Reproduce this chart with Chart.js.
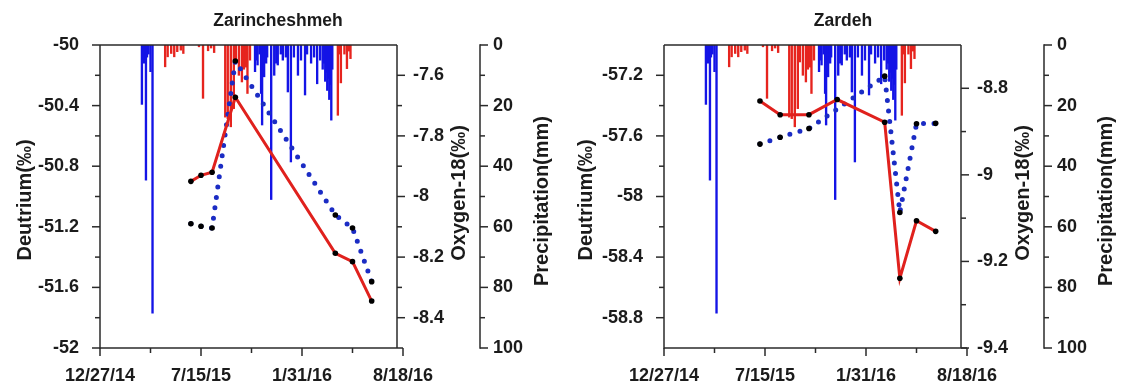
<!DOCTYPE html>
<html>
<head>
<meta charset="utf-8">
<script src="https://cdn.jsdelivr.net/npm/chart.js@4.4.1/dist/chart.umd.min.js"></script>
<style>
  html, body { margin: 0; padding: 0; background: #fff; }
  #wrap { position: relative; width: 1122px; height: 385px; overflow: hidden; }
  .panel { position: absolute; top: 0; width: 560px; height: 385px; }
</style>
</head>
<body>
<div id="wrap">
  <div class="panel" style="left:0"><canvas id="zarincheshmeh"></canvas></div>
  <div class="panel" style="left:564px"><canvas id="zardeh"></canvas></div>
</div>
<script>
// Date axis labels (M/D/YY); the first and last also bound the time axis
const dateTickLabels = ['12/27/14', '7/15/15', '1/31/16', '8/18/16'];

// Daily precipitation (mm), cold season
const coldPrecipDates = [
  '2015-03-20', '2015-03-22', '2015-03-24', '2015-03-28', '2015-03-30', '2015-04-02', '2015-04-06', '2015-04-10',
  '2015-10-30', '2015-11-01', '2015-11-04', '2015-11-08', '2015-11-11', '2015-11-13', '2015-11-17', '2015-11-21',
  '2015-11-23', '2015-12-01', '2015-12-07', '2015-12-11', '2015-12-14', '2015-12-20', '2015-12-24', '2015-12-30',
  '2016-01-03', '2016-01-09', '2016-01-15', '2016-01-23', '2016-01-29', '2016-02-06', '2016-02-10', '2016-02-18',
  '2016-02-24', '2016-03-01', '2016-03-07', '2016-03-12', '2016-03-15', '2016-03-17', '2016-03-19', '2016-03-21',
  '2016-03-23', '2016-03-25', '2016-03-27', '2016-03-29', '2016-03-31'
];
const coldPrecipMm = [
  19.6, 4.5, 6, 44.6, 4, 3, 8.8, 88.5,
  8.8, 5, 6.6, 3, 16, 26.4, 10.5, 6,
  4, 51, 10, 6, 6.6, 3, 5, 4,
  15.5, 38.6, 4, 10, 5, 16.5, 3, 6,
  4, 12.8, 5, 8, 6, 12, 9, 15,
  11, 18, 13, 24.8, 8
];

// Daily precipitation (mm), warm season
const warmPrecipDates = [
  '2015-05-05', '2015-05-10', '2015-05-17', '2015-05-23', '2015-05-29', '2015-06-05', '2015-06-10', '2015-07-11',
  '2015-07-19', '2015-07-29', '2015-08-04', '2015-08-10', '2015-09-01', '2015-09-06', '2015-09-12', '2015-09-18',
  '2015-09-22', '2015-09-28', '2015-10-04', '2015-10-08', '2015-10-12', '2015-10-15', '2015-10-20', '2016-04-11',
  '2016-04-14', '2016-04-17', '2016-04-24', '2016-04-29', '2016-05-03', '2016-05-06'
];
const warmPrecipMm = [
  7.2, 3.9, 2.8, 3.9, 2.2, 1.7, 2.8, 0.6,
  17.6, 1.9, 1, 2.5, 23.8, 24.3, 27, 21,
  5.6, 10, 12.2, 8, 7.3, 16, 5, 23.2,
  3, 12.5, 3, 7.8, 2, 4.5
];

// Zarincheshmeh isotope samples
const zarSampleDates = ['2015-06-25', '2015-07-15', '2015-08-06', '2015-09-21', '2016-04-06', '2016-05-10', '2016-06-17'];
const zarDeuterium = [-50.90, -50.86, -50.84, -50.345, -51.375, -51.43, -51.69];
const zarOxygen18 = [-8.09, -8.098, -8.104, -7.553, -8.061, -8.104, -8.281];

// Zardeh isotope samples
const zrdDeutDates = ['2015-07-05', '2015-08-14', '2015-10-10', '2015-12-05', '2016-03-08', '2016-04-07', '2016-05-10', '2016-06-17'];
const zrdDeuterium = [-57.37, -57.46, -57.46, -57.36, -57.51, -58.54, -58.16, -58.23];
const zrdOxyDates = ['2015-07-05', '2015-08-14', '2015-10-10', '2016-03-08', '2016-04-07', '2016-05-10', '2016-06-17'];
const zrdOxygen18 = [-8.929, -8.913, -8.893, -8.772, -9.087, -8.882, -8.881];

// Axis tick labels
const zarDeutTicks = [-50, -50.4, -50.8, -51.2, -51.6, -52];
const zarOxyTicks = [-7.6, -7.8, -8, -8.2, -8.4];
const zrdDeutTicks = [-57.2, -57.6, -58, -58.4, -58.8];
const zrdOxyTicks = [-8.8, -9, -9.2, -9.4];
const precipTicks = [0, 20, 40, 60, 80, 100];

// ---- helpers ----
const DAY_MS = 86400000;
const parseMDY = s => { const [m, d, y] = s.split('/').map(Number); return Date.UTC(2000 + y, m - 1, d); };
const parseISO = s => { const [y, m, d] = s.split('-').map(Number); return Date.UTC(y, m - 1, d); };
const origin = parseMDY(dateTickLabels[0]);
const dayOf = t => Math.round((t - origin) / DAY_MS);
const tickDays = dateTickLabels.map(s => dayOf(parseMDY(s)));
const pairs = (dates, vals) => dates.map((d, i) => ({ x: dayOf(parseISO(d)), y: vals[i] }));
const fmtNum = v => String(Number(v.toFixed(2)));

const FONT = '"Liberation Sans", Arial, Helvetica, sans-serif';
const TEXT = '#1b1b1b';
const AXIS = '#2a2a2a';

function minorValues(min, max, step, majors) {
  const out = [];
  const n = Math.round((max - min) / step);
  for (let i = 1; i < n; i++) {
    const v = min + i * step;
    if (!majors.some(m => Math.abs(m - v) < step / 4)) out.push(v);
  }
  return out;
}

// Draws the frame, the tick marks and all the titles of one panel
const panelDecor = {
  id: 'panelDecor',
  afterDraw(chart, _args, o) {
    const { ctx, chartArea: a } = chart;
    const { x, yD, yO, yP } = chart.scales;
    const oxX = a.right - o.oxyInset;
    const pX = yP.left;
    const MAJ = 8, MIN = 5;
    ctx.save();
    ctx.strokeStyle = AXIS;
    ctx.lineWidth = 1.5;
    const seg = (x1, y1, x2, y2) => { ctx.beginPath(); ctx.moveTo(x1, y1); ctx.lineTo(x2, y2); ctx.stroke(); };

    // frame and axis lines
    seg(a.left, a.top, a.left, a.bottom + 0.7);
    seg(a.left, a.bottom, a.right, a.bottom);
    seg(a.left, a.top, oxX, a.top);
    seg(oxX, a.top, oxX, a.bottom);
    seg(pX, a.top - 0.7, pX, a.bottom + 0.7);

    // time axis ticks
    x.ticks.forEach(t => { const p = x.getPixelForValue(t.value); seg(p, a.bottom, p, a.bottom + MAJ); });
    minorValues(x.min, x.max, o.xMinor, x.ticks.map(t => t.value))
      .forEach(v => { const p = x.getPixelForValue(v); seg(p, a.bottom, p, a.bottom + MIN); });

    // deuterium ticks (outward to the left)
    yD.ticks.forEach(t => { const p = yD.getPixelForValue(t.value); seg(a.left - MAJ, p, a.left, p); });
    minorValues(yD.min, yD.max, o.deutMinor, yD.ticks.map(t => t.value))
      .forEach(v => { const p = yD.getPixelForValue(v); seg(a.left - MIN, p, a.left, p); });

    // oxygen-18 ticks (outward to the right)
    yO.ticks.forEach(t => { const p = yO.getPixelForValue(t.value); seg(oxX, p, oxX + MAJ, p); });
    minorValues(yO.min, yO.max, o.oxyMinor, yO.ticks.map(t => t.value))
      .forEach(v => { const p = yO.getPixelForValue(v); seg(oxX, p, oxX + MIN, p); });

    // precipitation ticks
    yP.ticks.forEach(t => { const p = yP.getPixelForValue(t.value); seg(pX, p, pX + MAJ, p); });
    minorValues(yP.min, yP.max, 10, yP.ticks.map(t => t.value))
      .forEach(v => { const p = yP.getPixelForValue(v); seg(pX, p, pX + MIN, p); });

    // titles
    ctx.fillStyle = TEXT;
    ctx.textAlign = 'center';
    ctx.textBaseline = 'middle';
    ctx.font = 'bold 17.5px ' + FONT;
    ctx.fillText(o.title, a.left + o.titleDx, 21);

    ctx.font = 'bold 20px ' + FONT;
    const vertical = (text, cx, cy) => {
      ctx.save(); ctx.translate(cx, cy); ctx.rotate(-Math.PI / 2); ctx.fillText(text, 0, 0); ctx.restore();
    };
    const midY = (a.top + a.bottom) / 2;
    vertical('Deutrium(‰)', yD.left + o.deutTitleDx, midY + 3.5);
    vertical('Oxygen-18(‰)', oxX + 62, midY - 3.5);
    vertical('Precipitation(mm)', pX + 62, midY + 4.5);
    ctx.restore();
  }
};

function buildPanel(canvasId, cfg) {
  const tickFont = { family: FONT, size: 18, weight: 'bold' };
  const fixedTicks = list => axis => { axis.ticks = list.map(v => ({ value: v })); };
  const dayLabel = v => { const i = tickDays.indexOf(v); return i >= 0 ? dateTickLabels[i] : ''; };
  const common = { grid: { display: false, drawTicks: false }, border: { display: false } };

  return new Chart(document.getElementById(canvasId), {
    type: 'line',
    data: {
      datasets: [
        {
          type: 'line', label: 'Deuterium', data: pairs(cfg.deutDates, cfg.deut), yAxisID: 'yD',
          borderColor: '#e0211d', borderWidth: 3, tension: 0,
          pointRadius: 2.8, pointBackgroundColor: '#000', pointBorderWidth: 0, order: 1
        },
        {
          type: 'line', label: 'Oxygen-18', data: pairs(cfg.oxyDates, cfg.oxy), yAxisID: 'yO',
          borderColor: '#1b2cc4', borderWidth: 5, borderDash: [0, 10.5], borderCapStyle: 'round', tension: 0,
          pointRadius: 2.8, pointBackgroundColor: '#000', pointBorderWidth: 0, order: 2
        },
        {
          type: 'bar', label: 'Precipitation (cold season)', data: pairs(coldPrecipDates, coldPrecipMm), yAxisID: 'yP',
          backgroundColor: '#1414e6', barThickness: 1.7, grouped: false, order: 3
        },
        {
          type: 'bar', label: 'Precipitation (warm season)', data: pairs(warmPrecipDates, warmPrecipMm), yAxisID: 'yP',
          backgroundColor: '#e6241e', barThickness: 1.7, grouped: false, order: 3
        }
      ]
    },
    options: {
      responsive: true,
      maintainAspectRatio: false,
      animation: false,
      devicePixelRatio: 1,
      layout: { padding: { top: 45, left: 0, right: 0, bottom: 0 } },
      plugins: {
        legend: { display: false },
        tooltip: { enabled: false },
        panelDecor: {
          title: cfg.title, titleDx: cfg.titleDx, deutTitleDx: cfg.deutTitleDx,
          oxyInset: 6, xMinor: 100, deutMinor: 0.2, oxyMinor: 0.1
        }
      },
      scales: {
        x: {
          type: 'linear', position: 'bottom', offset: false,
          min: tickDays[0], max: tickDays[tickDays.length - 1],
          afterBuildTicks: fixedTicks(tickDays),
          afterFit: s => { s.height = 37; },
          ticks: { callback: dayLabel, autoSkip: false, maxRotation: 0, padding: 17, font: tickFont, color: TEXT },
          ...common
        },
        yD: {
          type: 'linear', position: 'left',
          min: cfg.deutRange[0], max: cfg.deutRange[1],
          afterBuildTicks: fixedTicks(cfg.deutTicks),
          afterFit: s => { s.width = 100; },
          ticks: { callback: fmtNum, autoSkip: false, padding: 21, font: tickFont, color: TEXT },
          ...common
        },
        yO: {
          type: 'linear', position: 'right', weight: 1,
          min: cfg.oxyRange[0], max: cfg.oxyRange[1],
          afterBuildTicks: fixedTicks(cfg.oxyTicks),
          afterFit: s => { s.width = 77; },
          ticks: { callback: fmtNum, autoSkip: false, padding: 10, font: tickFont, color: TEXT },
          ...common
        },
        yP: {
          type: 'linear', position: 'right', weight: 2, reverse: true,
          min: 0, max: 100,
          afterBuildTicks: fixedTicks(precipTicks),
          afterFit: s => { s.width = 80; },
          ticks: { callback: fmtNum, autoSkip: false, padding: 13, font: tickFont, color: TEXT },
          ...common
        }
      }
    },
    plugins: [panelDecor]
  });
}

buildPanel('zarincheshmeh', {
  title: 'Zarincheshmeh', titleDx: 178, deutTitleDx: 25,
  deutDates: zarSampleDates, deut: zarDeuterium,
  oxyDates: zarSampleDates, oxy: zarOxygen18,
  deutRange: [-52, -50], deutTicks: zarDeutTicks,
  oxyRange: [-8.5, -7.5], oxyTicks: zarOxyTicks
});

buildPanel('zardeh', {
  title: 'Zardeh', titleDx: 179, deutTitleDx: 22,
  deutDates: zrdDeutDates, deut: zrdDeuterium,
  oxyDates: zrdOxyDates, oxy: zrdOxygen18,
  deutRange: [-59, -57], deutTicks: zrdDeutTicks,
  oxyRange: [-9.4, -8.7], oxyTicks: zrdOxyTicks
});
</script>
</body>
</html>
